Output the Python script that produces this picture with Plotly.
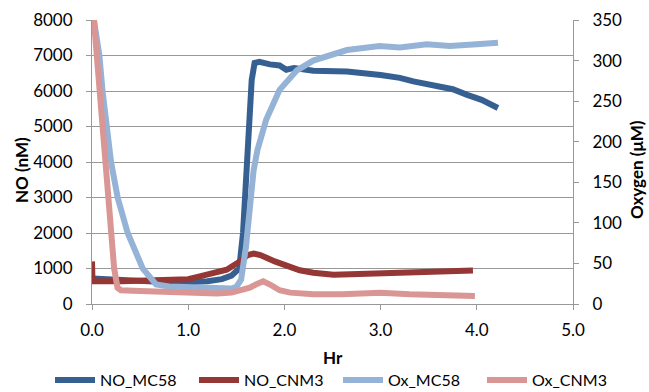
import plotly.graph_objects as go

# ---- data ----
no_mc58_x = [0.0, 0.3, 0.6, 0.9, 1.2, 1.35, 1.45, 1.53, 1.57, 1.60, 1.62, 1.64, 1.66, 1.69, 1.74,
             1.85, 1.95, 2.02, 2.1, 2.3, 2.65, 3.0, 3.2, 3.34, 3.55, 3.75, 3.9, 4.05, 4.22]
no_mc58_y = [720, 680, 610, 600, 640, 700, 800, 1000, 2000, 3300, 4340, 5400, 6310, 6790, 6820,
             6750, 6720, 6600, 6650, 6570, 6550, 6450, 6370, 6270, 6170, 6050, 5890, 5750, 5520]

no_cnm3_x = [0.0, 0.005, 0.3, 0.6, 1.0, 1.12, 1.3, 1.4, 1.54, 1.62, 1.68, 1.75, 1.9, 2.06,
             2.16, 2.3, 2.51, 2.86, 3.2, 3.55, 3.96]
no_cnm3_y = [1200, 640, 640, 670, 700, 777, 880, 965, 1200, 1380, 1420, 1380, 1200, 1058,
             950, 880, 824, 850, 890, 918, 946]

ox_mc58_x = [0.02, 0.077, 0.11, 0.153, 0.198, 0.267, 0.371, 0.527, 0.666, 0.8, 1.0, 1.2, 1.4,
             1.45, 1.5, 1.55, 1.6, 1.64, 1.68, 1.72, 1.81, 1.95, 2.13, 2.3, 2.65, 2.99, 3.2,
             3.48, 3.72, 4.0, 4.22]
ox_mc58_y = [350, 306, 262, 219, 175, 131, 87.5, 43.75, 24, 21.5, 21, 21, 20,
             19, 21, 30, 70, 128, 165, 190, 227, 264, 288, 300, 313, 318, 316,
             320, 318, 320, 322]

ox_cnm3_x = [0.02, 0.11, 0.17, 0.23, 0.265, 0.3, 0.5, 0.7, 0.9, 1.1, 1.3, 1.45, 1.55, 1.64,
             1.72, 1.78, 1.85, 1.95, 2.06, 2.3, 2.6, 3.0, 3.3, 3.6, 3.98]
ox_cnm3_y = [350, 219, 131, 44, 20, 17, 16, 15, 14, 14, 13, 14, 17, 20,
             25, 28, 24, 17, 14, 12, 12, 14, 12, 11, 10]

x_ticks = [0, 1, 2, 3, 4, 5]
x_ticklabels = ["0.0", "1.0", "2.0", "3.0", "4.0", "5.0"]

x_title = "Hr"
y_title = "NO (nM)"
y2_title = "Oxygen (μM)"

FONT = "Lato"
GRID = "#989898"
LW = 6

fig = go.Figure()
fig.add_trace(go.Scatter(x=no_mc58_x, y=no_mc58_y, name="NO_MC58", mode="lines",
                         line=dict(color="#376092", width=LW)))
fig.add_trace(go.Scatter(x=no_cnm3_x, y=no_cnm3_y, name="NO_CNM3", mode="lines",
                         line=dict(color="#953735", width=LW)))
fig.add_trace(go.Scatter(x=ox_mc58_x, y=ox_mc58_y, name="Ox_MC58", mode="lines", yaxis="y2",
                         line=dict(color="#95B3D7", width=LW)))
fig.add_trace(go.Scatter(x=ox_cnm3_x, y=ox_cnm3_y, name="Ox_CNM3", mode="lines", yaxis="y2",
                         line=dict(color="#D99694", width=LW)))

W, H = 649, 392
L, R, T, B = 92, 76, 20, 88
PW, PH = W - L - R, H - T - B


def px_x(px):
    return (px - L) / PW


def px_y(py):
    return (T + PH - py) / PH


axis_common = dict(zeroline=False, showline=True, linecolor=GRID, linewidth=1,
                   ticks="outside", ticklen=5, tickcolor=GRID, automargin=False)

fig.update_layout(
    width=W, height=H,
    margin=dict(l=L, r=R, t=T, b=B, autoexpand=False),
    paper_bgcolor="white", plot_bgcolor="white",
    font=dict(family=FONT, size=17, color="#000000"),
    showlegend=True,
    legend=dict(orientation="h",
                x=px_x(50), xanchor="left",
                y=px_y(380), yanchor="middle",
                font=dict(size=16), itemwidth=40, tracegroupgap=0,
                entrywidth=89, entrywidthmode="pixels"),
    xaxis=dict(range=[0, 5], tickvals=x_ticks, ticktext=x_ticklabels,
               showgrid=False, ticklabelstandoff=6, **axis_common),
    yaxis=dict(range=[0, 8000], dtick=1000, showgrid=True, gridcolor=GRID, gridwidth=1,
               ticklabelstandoff=10, **axis_common),
    yaxis2=dict(range=[0, 350], dtick=50, overlaying="y", side="right", showgrid=False,
                ticklabelstandoff=10, **axis_common),
    annotations=[
        dict(text="<b>%s</b>" % x_title, xref="paper", yref="paper",
             x=0.5, y=px_y(357), xanchor="center", yanchor="middle",
             showarrow=False, font=dict(size=17)),
        dict(text="<b>%s</b>" % y_title, xref="paper", yref="paper",
             x=px_x(21), y=px_y(170), xanchor="center", yanchor="middle",
             textangle=-90, showarrow=False, font=dict(size=17)),
        dict(text="<b>%s</b>" % y2_title, xref="paper", yref="paper",
             x=px_x(636), y=px_y(170), xanchor="center", yanchor="middle",
             textangle=-90, showarrow=False, font=dict(size=17)),
    ],
)

fig.write_html(
    "out.html",
    config={"displayModeBar": False},
    post_script="document.body.style.margin='0px';document.body.style.padding='0px';",
)
